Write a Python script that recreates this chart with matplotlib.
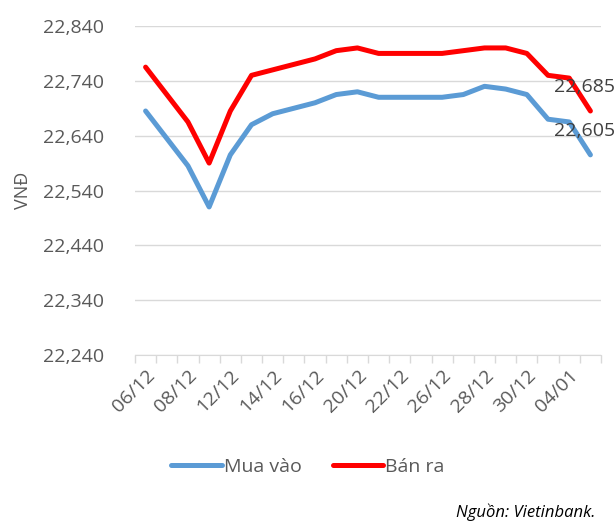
import numpy as np
import matplotlib.pyplot as plt

plt.rcParams['font.family'] = ['Open Sans', 'DejaVu Sans']

# trading days 06/12/2016 - 05/01/2017
dates = ["06/12", "07/12", "08/12", "09/12", "12/12", "13/12", "14/12", "15/12",
         "16/12", "19/12", "20/12", "21/12", "22/12", "23/12", "26/12", "27/12",
         "28/12", "29/12", "30/12", "03/01", "04/01", "05/01"]
mua_vao = [22685, 22635, 22585, 22510, 22605, 22660, 22680, 22690, 22700, 22715, 22720,
           22710, 22710, 22710, 22710, 22715, 22730, 22725, 22715, 22670, 22665, 22605]
ban_ra = [22765, 22715, 22665, 22590, 22685, 22750, 22760, 22770, 22780, 22795, 22800,
          22790, 22790, 22790, 22790, 22795, 22800, 22800, 22790, 22750, 22745, 22685]
yticks = [22240, 22340, 22440, 22540, 22640, 22740, 22840]

text_col = "#595959"
grid_col = "#D9D9D9"

fig = plt.figure(figsize=(6.15, 5.23), dpi=100)
ax = fig.add_axes([135 / 615, 1 - 355 / 523, 466 / 615, 329 / 523])

x = np.arange(len(dates))
ax.plot(x, mua_vao, color="#5B9BD5", lw=3.6, solid_capstyle="round", label="Mua vào", zorder=3)
ax.plot(x, ban_ra, color="#FF0000", lw=3.6, solid_capstyle="round", label="Bán ra", zorder=3)

# data labels on the last day, nudged left so they stay inside the figure
for series in (ban_ra, mua_vao):
    ax.annotate(f"{series[-1]:,}", (x[-1], series[-1]), xytext=(-4, 11),
                textcoords="offset points", ha="center", va="bottom",
                fontsize=14, color="#404040", annotation_clip=False)

ax.set_ylim(yticks[0], yticks[-1])
ax.set_yticks(yticks)
ax.set_yticklabels([f"{v:,}" for v in yticks], fontsize=14, color=text_col)
ax.set_xlim(-0.5, len(dates) - 0.5)
ax.set_xticks(x[::2])
ax.set_xticklabels(dates[::2], rotation=45, ha="right", rotation_mode="anchor",
                   fontsize=14, color=text_col)
ax.set_xticks(np.arange(-0.5, len(dates)), minor=True)
ax.tick_params(axis="x", which="major", length=0, pad=8)
ax.tick_params(axis="x", which="minor", length=6, color=grid_col, width=1)
ax.tick_params(axis="y", length=0, pad=22)

ax.grid(axis="y", color=grid_col, lw=1)
for side in ("top", "right", "left"):
    ax.spines[side].set_visible(False)
ax.spines["bottom"].set_color(grid_col)
ax.set_ylabel("VNĐ", fontsize=13, color=text_col, labelpad=8)

fig.legend(loc="center", bbox_to_anchor=(308 / 615, 1 - 467 / 523), ncol=2, frameon=False,
           fontsize=14, labelcolor=text_col, handlelength=2.6, handletextpad=0.1,
           columnspacing=1.6)
fig.text(595 / 615, 1 - 512 / 523, "Nguồn: Vietinbank.", ha="right", va="center",
         fontsize=12, style="italic", color="black")

fig.savefig("out.png", dpi=100)
